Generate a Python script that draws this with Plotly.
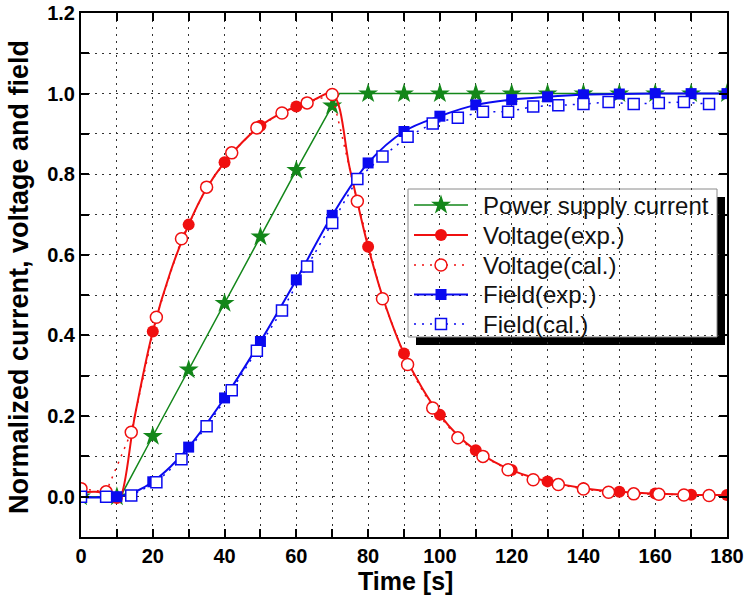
import plotly.graph_objects as go

# ---------------- data ----------------
# Power supply current
cur_line_x = [0, 11, 20, 30, 40, 50, 60, 70, 72, 80, 90, 100, 110, 120, 130, 140, 150, 160, 170, 180]
cur_line_y = [0, 0, 0.15, 0.315, 0.48, 0.645, 0.81, 0.97, 1.0, 1.0, 1.0, 1.0, 1.0, 1.0, 1.0, 1.0, 1.0, 1.0, 1.0, 1.0]
cur_mark_x = [0, 10, 20, 30, 40, 50, 60, 70, 80, 90, 100, 110, 120, 130, 140, 150, 160, 170, 180]
cur_mark_y = [0, 0, 0.15, 0.315, 0.48, 0.645, 0.81, 0.97, 1.0, 1.0, 1.0, 1.0, 1.0, 1.0, 1.0, 1.0, 1.0, 1.0, 1.0]

# Voltage (exp.)
vexp_line_x = [0, 4, 8, 10, 11, 15, 20, 25, 30, 35, 40, 45, 50, 55, 60, 65, 70, 75, 80, 85, 90, 95,
               100, 105, 110, 115, 120, 125, 130, 140, 150, 160, 170, 180]
vexp_line_y = [0.01, 0.012, 0.006, -0.003, 0.0, 0.2, 0.41, 0.56, 0.675, 0.765, 0.83, 0.88, 0.92, 0.948,
               0.968, 0.985, 1.0, 0.81, 0.62, 0.47, 0.355, 0.27, 0.203, 0.152, 0.115, 0.087, 0.066, 0.05,
               0.038, 0.021, 0.012, 0.008, 0.005, 0.004]
vexp_mark_x = [10, 20, 30, 40, 50, 60, 80, 90, 100, 110, 120, 130, 140, 150, 160, 170, 180]
vexp_mark_y = [-0.003, 0.41, 0.675, 0.83, 0.92, 0.968, 0.62, 0.355, 0.203, 0.115, 0.066, 0.038, 0.021,
               0.012, 0.008, 0.005, 0.004]

# Voltage (cal.)
vcal_x = [0, 7, 14, 21, 28, 35, 42, 49, 56, 63, 70, 77, 84, 91, 98, 105, 112, 119, 126, 133, 140,
          147, 154, 161, 168, 175]
vcal_y = [0.02, 0.012, 0.16, 0.445, 0.64, 0.768, 0.853, 0.915, 0.952, 0.977, 0.998, 0.733, 0.491,
          0.328, 0.22, 0.146, 0.1, 0.067, 0.042, 0.03, 0.019, 0.011, 0.007, 0.006, 0.004, 0.003]

# Field (exp.)
fexp_line_x = [0, 10, 13, 16, 20, 25, 30, 40, 50, 60, 70, 80, 90, 100, 110, 120, 130, 140, 150, 160, 170, 180]
fexp_line_y = [-0.002, 0.0, 0.006, 0.016, 0.037, 0.075, 0.123, 0.245, 0.385, 0.538, 0.698, 0.828, 0.906,
               0.944, 0.972, 0.985, 0.992, 0.997, 0.999, 1.0, 1.0, 1.0]
fexp_mark_x = [10, 20, 30, 40, 50, 60, 70, 80, 90, 100, 110, 120, 130, 140, 150, 160, 170, 180]
fexp_mark_y = [0.0, 0.037, 0.123, 0.245, 0.385, 0.538, 0.698, 0.828, 0.906, 0.944, 0.972, 0.985,
               0.992, 0.997, 0.999, 1.0, 1.0, 1.0]

# Field (cal.)
fcal_x = [0, 7, 14, 21, 28, 35, 42, 49, 56, 63, 70, 77, 84, 91, 98, 105, 112, 119, 126, 133, 140,
          147, 154, 161, 168, 175]
fcal_y = [0.0, 0.0, 0.003, 0.036, 0.093, 0.175, 0.264, 0.362, 0.462, 0.571, 0.679, 0.788, 0.844,
          0.893, 0.926, 0.94, 0.955, 0.955, 0.968, 0.971, 0.974, 0.979, 0.974, 0.977, 0.979, 0.974]

series_names = ["Power supply current", "Voltage(exp.)", "Voltage(cal.)", "Field(exp.)", "Field(cal.)"]

x_ticks = [0, 20, 40, 60, 80, 100, 120, 140, 160, 180]
y_ticks = [0.0, 0.2, 0.4, 0.6, 0.8, 1.0, 1.2]
y_tick_text = ["0.0", "0.2", "0.4", "0.6", "0.8", "1.0", "1.2"]
x_title = "Time [s]"
y_title = "Normalized current, voltage and field"

# ---------------- styling ----------------
GREEN = "#13871a"
RED = "#f01010"
BLUE = "#0a0af0"
FONT = "Liberation Sans, Arial, sans-serif"
W, H = 749, 600
ML, MR, MT, MB = 81, 22, 13, 63
PW, PH = W - ML - MR, H - MT - MB


def px_x(p):  # pixel -> paper
    return (p - ML) / PW


def px_y(p):
    return (H - MB - p) / PH


styles = [
    dict(line=dict(color=GREEN, width=1.5), marker=dict(symbol="star", size=15, color=GREEN, line=dict(width=0))),
    dict(line=dict(color=RED, width=2), marker=dict(symbol="circle", size=12, color=RED, line=dict(width=0))),
    dict(line=dict(color=RED, width=1.5, dash="2px,6px"),
         marker=dict(symbol="circle", size=12, color="white", line=dict(color=RED, width=1.5))),
    dict(line=dict(color=BLUE, width=2), marker=dict(symbol="square", size=11, color=BLUE, line=dict(width=0))),
    dict(line=dict(color=BLUE, width=1.5, dash="2px,6px"),
         marker=dict(symbol="square", size=11, color="white", line=dict(color=BLUE, width=1.5))),
]

fig = go.Figure()

# ---- data traces ----
fig.add_trace(go.Scatter(x=cur_line_x, y=cur_line_y, mode="lines", line=styles[0]["line"],
                         showlegend=False, hoverinfo="skip"))
fig.add_trace(go.Scatter(x=cur_mark_x, y=cur_mark_y, mode="markers", marker=styles[0]["marker"],
                         name=series_names[0], showlegend=False))
fig.add_trace(go.Scatter(x=vexp_line_x, y=vexp_line_y, mode="lines", line_shape="spline",
                         line=styles[1]["line"], showlegend=False, hoverinfo="skip"))
fig.add_trace(go.Scatter(x=vexp_mark_x, y=vexp_mark_y, mode="markers", marker=styles[1]["marker"],
                         name=series_names[1], showlegend=False))
fig.add_trace(go.Scatter(x=vcal_x, y=vcal_y, mode="lines+markers", line=styles[2]["line"],
                         marker=styles[2]["marker"], name=series_names[2], showlegend=False))
fig.add_trace(go.Scatter(x=fexp_line_x, y=fexp_line_y, mode="lines", line_shape="spline",
                         line=styles[3]["line"], showlegend=False, hoverinfo="skip"))
fig.add_trace(go.Scatter(x=fexp_mark_x, y=fexp_mark_y, mode="markers", marker=styles[3]["marker"],
                         name=series_names[3], showlegend=False))
fig.add_trace(go.Scatter(x=fcal_x, y=fcal_y, mode="lines+markers", line=styles[4]["line"],
                         marker=styles[4]["marker"], name=series_names[4], showlegend=False))

# ---- legend (box, shadow, symbols, texts) ----
box_l, box_r, box_t, box_b = 408, 717, 189, 337
shadow = 8
fig.add_shape(type="rect", xref="paper", yref="paper",
              x0=px_x(box_l + shadow), x1=px_x(box_r + shadow),
              y0=px_y(box_b + shadow), y1=px_y(box_t + shadow),
              fillcolor="black", line=dict(width=0), layer="between")
fig.add_shape(type="rect", xref="paper", yref="paper",
              x0=px_x(box_l), x1=px_x(box_r), y0=px_y(box_b), y1=px_y(box_t),
              fillcolor="white", line=dict(color="#8a8a8a", width=1), layer="between")

row_y = [205, 235, 265, 294.5, 324]
sym_l, sym_r, sym_c, text_l = 414, 468, 441, 481
for name, st, ry in zip(series_names, styles, row_y):
    fig.add_trace(go.Scatter(x=[px_x(sym_l), px_x(sym_r)], y=[px_y(ry), px_y(ry)], mode="lines",
                             line=st["line"], xaxis="x2", yaxis="y2", showlegend=False, hoverinfo="skip"))
    fig.add_trace(go.Scatter(x=[px_x(sym_c)], y=[px_y(ry)], mode="markers", marker=st["marker"],
                             xaxis="x2", yaxis="y2", showlegend=False, hoverinfo="skip"))
    fig.add_annotation(text=name, xref="paper", yref="paper", x=px_x(text_l), y=px_y(ry),
                       xanchor="left", yanchor="middle", showarrow=False,
                       font=dict(family=FONT, size=24, color="#111111"))

grid_common = dict(showgrid=True, gridcolor="#333333", gridwidth=1, griddash="2px,5px")
axis_common = dict(
    showline=True, linecolor="black", linewidth=2, mirror="ticks",
    ticks="inside", ticklen=8, tickwidth=2, tickcolor="black",
    zeroline=False, automargin=False, tickmode="array",
    tickfont=dict(family=FONT, size=20, color="black", weight="bold"),
    **grid_common,
)

xaxis = dict(range=[0, 180], tickvals=x_ticks, ticktext=[str(v) for v in x_ticks],
             minor=dict(tickmode="linear", tick0=0, dtick=10, ticks="inside", ticklen=8, tickwidth=1.5,
                        tickcolor="black", **grid_common),
             **axis_common)
yaxis = dict(range=[-0.1, 1.2], tickvals=y_ticks, ticktext=y_tick_text,
             minor=dict(tickmode="linear", tick0=0, dtick=0.1, ticks="inside", ticklen=8, tickwidth=1.5,
                        tickcolor="black", **grid_common),
             **axis_common)

# axis titles
fig.add_annotation(text=x_title, xref="paper", yref="paper", x=px_x(405), y=px_y(581),
                   xanchor="center", yanchor="middle", showarrow=False,
                   font=dict(family=FONT, size=25, color="black", weight="bold"))
fig.add_annotation(text=y_title, xref="paper", yref="paper",
                   x=px_x(19), y=px_y(277), xanchor="center", yanchor="middle", textangle=-90,
                   showarrow=False,
                   font=dict(family=FONT, size=27, color="black", weight="bold"))

fig.update_layout(
    width=W, height=H,
    margin=dict(l=ML, r=MR, t=MT, b=MB, autoexpand=False),
    plot_bgcolor="white", paper_bgcolor="white",
    font=dict(family=FONT, color="black"),
    xaxis=xaxis, yaxis=yaxis,
    xaxis2=dict(overlaying="x", anchor="y2", range=[0, 1], visible=False, fixedrange=True),
    yaxis2=dict(overlaying="y", anchor="x2", range=[0, 1], visible=False, fixedrange=True),
    showlegend=False,
)

fig.write_html("out.html", config={"displayModeBar": False},
               post_script="document.body.style.margin='0px';")
